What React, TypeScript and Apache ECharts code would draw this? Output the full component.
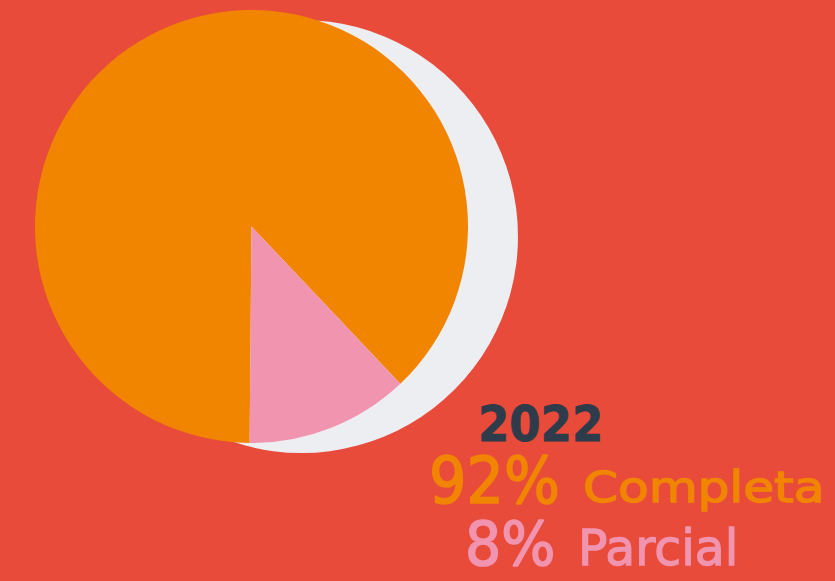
import React, { useEffect, useRef } from "react";
import * as echarts from "echarts";

const categories = ["Completa", "Parcial"];
// slice shares as drawn in the picture (degrees of arc / 360)
const sliceValues = [87.8, 12.2];
const percentLabels = ["92%", "8%"];
const yearLabel = "2022";

const BG = "#e84b3a";
const ORANGE = "#f18500";
const PINK = "#f094b0";
const SHADOW = "#edeef2";
const DARK = "#2e3b4a";
const FONT = "DejaVu Sans";

export default function App() {
  const ref = useRef<HTMLDivElement>(null);
  useEffect(() => {
    document.body.style.margin = "0";
    const chart = echarts.init(ref.current!, null, { renderer: "svg" });
    const txt = (
      text: string,
      x: number,
      y: number,
      size: number,
      weight: string,
      color: string,
      sx: number,
      sw: number
    ) => ({
      type: "text",
      x,
      y,
      scaleX: sx,
      silent: true,
      style: {
        text,
        x: 0,
        y: 0,
        fill: color,
        stroke: color,
        lineWidth: sw,
        font: `${weight} ${size}px "${FONT}"`,
        align: "left",
        verticalAlign: "middle",
      },
    });
    chart.setOption({
      animation: false,
      backgroundColor: BG,
      graphic: [
        {
          type: "circle",
          shape: { cx: 301.5, cy: 236.5, r: 216.5 },
          style: { fill: SHADOW },
          silent: true,
          z: 0,
        },
        txt(yearLabel, 478, 423.5, 50, "bold", DARK, 0.9, 0.8),
        txt(percentLabels[0], 429, 481.5, 64, "normal", ORANGE, 0.92, 1.6),
        txt(categories[0], 583, 487.5, 42.5, "normal", ORANGE, 1.18, 1.3),
        txt(percentLabels[1], 465, 544, 60, "normal", PINK, 0.95, 1.6),
        txt(categories[1], 578, 548, 49.4, "normal", PINK, 0.99, 1.3),
      ],
      series: [
        {
          type: "pie",
          center: [251.5, 226.5],
          radius: 216.5,
          startAngle: 269.5,
          clockwise: true,
          silent: true,
          label: { show: false },
          labelLine: { show: false },
          emphasis: { disabled: true },
          itemStyle: { borderWidth: 0 },
          data: categories.map((name, i) => ({
            name,
            value: sliceValues[i],
            itemStyle: { color: i === 0 ? ORANGE : PINK },
          })),
        },
      ],
    });
    return () => chart.dispose();
  }, []);
  return (
    <div
      ref={ref}
      style={{ position: "fixed", left: 0, top: 0, width: 835, height: 581 }}
    />
  );
}
